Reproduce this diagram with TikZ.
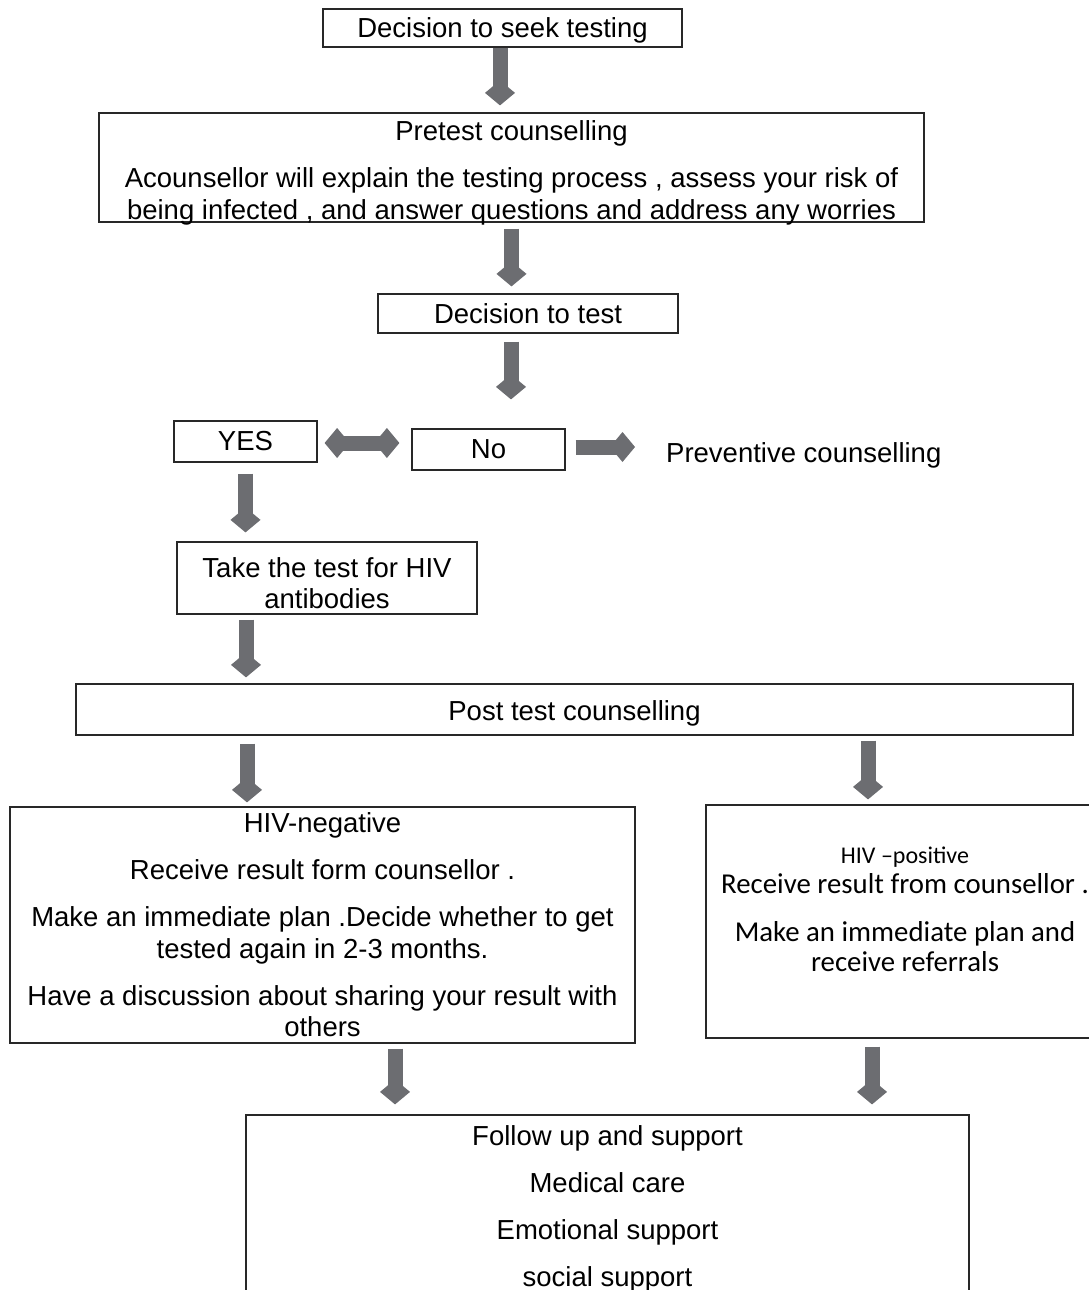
\documentclass[tikz,border=0pt]{standalone}
\usepackage{fontspec}
\setmainfont{Liberation Sans}
\newfontfamily\calibri{Carlito}
\usetikzlibrary{arrows.meta}
\definecolor{agray}{RGB}{108,109,113}
\definecolor{bline}{RGB}{40,40,40}
\tikzset{
  box/.style={draw=bline, line width=1.2pt, inner sep=0pt, align=center,
    font=\fontsize{27.5}{31.5}\selectfont},
  txt/.style={inner sep=0pt, align=center, font=\fontsize{27.5}{31.5}\selectfont},
  bigarrow/.style={draw=agray, line width=15pt,
    -{Diamond[length=25pt,width=30pt,line width=0pt]}},
  dblarrow/.style={draw=agray, line width=15pt,
    {Diamond[length=25pt,width=30pt,line width=0pt]}-{Diamond[length=25pt,width=30pt,line width=0pt]}}
}
\begin{document}
\begin{tikzpicture}[x=1pt,y=-1pt]
\useasboundingbox (0,0) rectangle (1088,1290);
% boxes
\node[box, minimum width=359pt, minimum height=38pt] (n1) at (502.5,28) {};
\node[txt] (n1t) at (502.5,30) {Decision to seek testing};
\node[box, minimum width=825pt, minimum height=109pt] (n2) at (511.5,167.5) {};
\node[txt] (n2t) at (511.5,173)
  {Pretest counselling\\[15.5pt]Acounsellor will explain the testing process , assess your risk of\\being infected , and answer questions and address any worries};
\node[box, minimum width=300pt, minimum height=39pt] (n3) at (528,313.5) {Decision to test};
\node[box, minimum width=143pt, minimum height=41pt] (yes) at (245.5,441.5) {YES};
\node[box, minimum width=153pt, minimum height=41pt] (no) at (488.5,449.5) {No};
\node[txt, anchor=west] (prev) at (666,455) {Preventive counselling};
\node[box, minimum width=300pt, minimum height=72pt] (take) at (327,578) {};
\node[txt] (taket) at (327,583) {Take the test for HIV\\antibodies};
\node[box, minimum width=997pt, minimum height=51pt] (post) at (574.5,709.5) {};
\node[txt] (postt) at (574.5,713) {Post test counselling};
\node[box, minimum width=625pt, minimum height=236pt] (neg) at (322.5,925)
  {HIV-negative\\[15.5pt]Receive result form counsellor .\\[15.5pt]Make an immediate plan .Decide whether to get\\tested again in 2-3 months.\\[15.5pt]Have a discussion about sharing your result with\\others};
\node[box, minimum width=394pt, minimum height=233pt] (pos) at (903,921.5) {};
\node[txt, font=\calibri\fontsize{28.8}{30}\selectfont] (post-pos) at (905,909)
  {{\fontsize{24}{28}\selectfont HIV –positive}\\[0pt]Receive result from counsellor .\\[18pt]Make an immediate plan and\\receive referrals};
\node[box, minimum width=723pt, minimum height=183pt] (fol) at (607.5,1206.5) {};
\node[txt] (folt) at (607.5,1209)
  {Follow up and support\\[15.5pt]Medical care\\[15.5pt]Emotional support\\[15.5pt]social support};
% arrows
\draw[bigarrow, shorten >=7pt] ([xshift=-2.5pt]n1.south) -- ([xshift=-2.5pt]n1.south |- n2.north);
\draw[bigarrow, shorten <=6pt, shorten >=7pt] (n2.south) -- (n2.south |- n3.north);
\draw[bigarrow, shorten <=8pt, shorten >=29pt] ([xshift=-17pt]n3.south) -- ([xshift=-17pt]n3.south |- no.north);
\draw[dblarrow, shorten <=7pt, shorten >=12pt] ([yshift=-1.5pt]yes.east) -- ([yshift=-1.5pt]yes.east -| no.west);
\draw[bigarrow, shorten <=10pt, shorten >=31pt] ([yshift=2.5pt]no.east) -- ([yshift=2.5pt]no.east -| prev.west);
\draw[bigarrow, shorten <=11pt, shorten >=9pt] (yes.south) -- (yes.south |- take.north);
\draw[bigarrow, shorten <=5pt, shorten >=6pt] ([xshift=-81pt]take.south) -- ([xshift=-81pt]take.south |- post.north);
\draw[bigarrow, shorten <=8pt, shorten >=4pt] ([xshift=-327.5pt]post.south) -- ([xshift=-327.5pt]post.south |- neg.north);
\draw[bigarrow, shorten <=5pt, shorten >=5pt] ([xshift=293.5pt]post.south) -- ([xshift=293.5pt]post.south |- pos.north);
\draw[bigarrow, shorten <=5pt, shorten >=10pt] ([xshift=72.5pt]neg.south) -- ([xshift=72.5pt]neg.south |- fol.north);
\draw[bigarrow, shorten <=8pt, shorten >=10pt] ([xshift=-31pt]pos.south) -- ([xshift=-31pt]pos.south |- fol.north);
\end{tikzpicture}
\end{document}
